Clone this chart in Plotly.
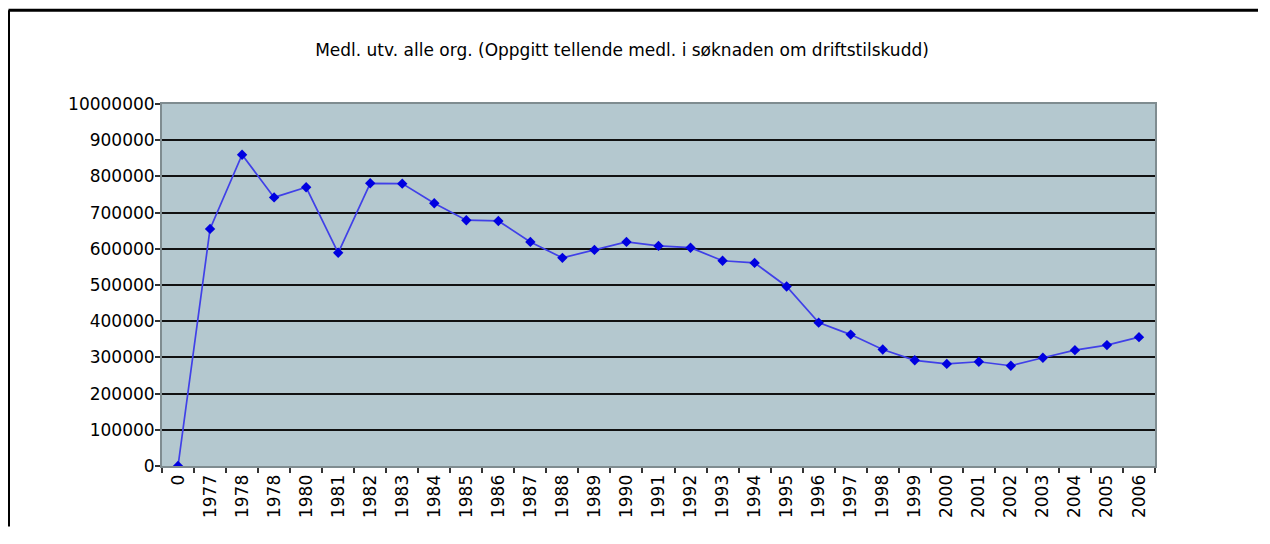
import plotly.graph_objects as go

categories = ["0", "1977", "1978", "1978", "1980", "1981", "1982", "1983", "1984", "1985",
              "1986", "1987", "1988", "1989", "1990", "1991", "1992", "1993", "1994", "1995",
              "1996", "1997", "1998", "1999", "2000", "2001", "2002", "2003", "2004", "2005", "2006"]
members = [0, 655000, 860000, 742000, 770000, 589000, 781000, 780000, 726000, 679000,
           677000, 619000, 575000, 597000, 619000, 608000, 603000, 567000, 561000, 496000,
           396000, 363000, 322000, 292000, 282000, 288000, 277000, 299000, 320000, 334000, 356000]
y_tickvals = [0, 100000, 200000, 300000, 400000, 500000, 600000, 700000, 800000, 900000, 1000000]
y_ticktext = ["0", "100000", "200000", "300000", "400000", "500000", "600000", "700000",
              "800000", "900000", "10000000"]
title_text = "Medl. utv. alle org. (Oppgitt tellende medl. i søknaden om driftstilskudd)"

idx = list(range(len(categories)))

W, H = 1250, 522
L, R, T, B = 154, 103, 96, 61
PW, PH = W - L - R, H - T - B

fig = go.Figure()
fig.add_trace(go.Scatter(
    x=idx, y=members, mode="lines+markers",
    line=dict(color="#4040e8", width=1.7),
    marker=dict(symbol="diamond", size=8, color="#0000e0"),
    showlegend=False,
))

font_family = "DejaVu Sans, sans-serif"
fig.update_layout(
    width=W, height=H, autosize=False,
    margin=dict(l=L, r=R, t=T, b=B),
    paper_bgcolor="white",
    plot_bgcolor="#b4c8cf",
    font=dict(family=font_family, size=17, color="black"),
    title=dict(text=title_text, x=(622 - 8) / W, xanchor="center", xref="container",
               y=1 - (50 - 8) / H, yanchor="middle", yref="container",
               font=dict(size=17, family=font_family, color="black")),
    xaxis=dict(
        range=[-0.5, len(categories) - 0.5],
        tickvals=idx, ticktext=categories, tickangle=-90,
        ticks="", showgrid=False, zeroline=False,
        showline=True, linecolor="#7f8c90", linewidth=2, mirror=True,
        minor=dict(tickvals=[i - 0.5 for i in idx] + [len(categories) - 0.5],
                   ticks="outside", ticklen=5, tickcolor="#333333", tickwidth=1.5,
                   showgrid=False),
        tickfont=dict(size=17),
    ),
    yaxis=dict(
        range=[0, 1000000],
        tickvals=y_tickvals, ticktext=y_ticktext,
        ticks="outside", ticklen=5, tickcolor="#333333", tickwidth=1.5,
        ticklabelstandoff=-3,
        showgrid=True, gridcolor="#111111", gridwidth=1.5,
        zeroline=False,
        showline=True, linecolor="#7f8c90", linewidth=2, mirror=True,
        tickfont=dict(size=17),
    ),
    shapes=[
        dict(type="line", xref="paper", yref="paper",
             x0=-(L - 0.5) / PW, x1=(W - L) / PW, y0=1 + (T - 1.5) / PH, y1=1 + (T - 1.5) / PH,
             line=dict(color="black", width=3)),
        dict(type="line", xref="paper", yref="paper",
             x0=-(L - 0.5) / PW, x1=-(L - 0.5) / PW, y0=1 + (T - 1.5) / PH, y1=-B / PH,
             line=dict(color="black", width=3)),
    ],
)

fig.write_html("out.html", config={"displayModeBar": False})
